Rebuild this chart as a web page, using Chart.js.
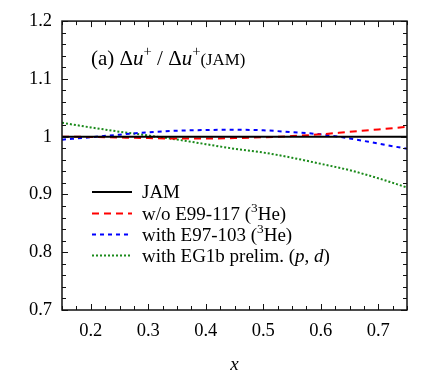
<!DOCTYPE html>
<html>
<head>
<meta charset="utf-8">
<script src="https://cdn.jsdelivr.net/npm/chart.js@4.4.1/dist/chart.umd.min.js"></script>
<style>
  html, body { margin: 0; padding: 0; background: #fff; }
  #wrap { width: 436px; height: 381px; }
</style>
</head>
<body>
<div id="wrap"><canvas id="graphic"></canvas></div>
<script>
// x grid of the curves
const xValues = [0.15, 0.2, 0.25, 0.3, 0.35, 0.4, 0.45, 0.5, 0.55, 0.6, 0.65, 0.7, 0.75]

// ratio to JAM
const jam      = [1, 1, 1, 1, 1, 1, 1, 1, 1, 1, 1, 1, 1]
const woE99    = [1.0, 0.9995, 0.9985, 0.9975, 0.9967, 0.9968, 0.9975, 0.999, 1.001, 1.004, 1.0083, 1.0125, 1.017]
const withE97  = [0.9948, 0.999, 1.0035, 1.0075, 1.0103, 1.0115, 1.012, 1.011, 1.0078, 1.004, 0.997, 0.988, 0.979]
const withEG1b = [1.024, 1.016, 1.0086, 1.002, 0.995, 0.987, 0.979, 0.9725, 0.9635, 0.953, 0.942, 0.928, 0.912]

const xTicks = [0.2, 0.3, 0.4, 0.5, 0.6, 0.7]
const xTickLabels = ['0.2', '0.3', '0.4', '0.5', '0.6', '0.7']
const yTicks = [0.7, 0.8, 0.9, 1.0, 1.1, 1.2]
const yTickLabels = ['0.7', '0.8', '0.9', '1', '1.1', '1.2']
const xMinorStep = 0.025
const yMinorStep = 0.02

const seriesNames = ['JAM', 'w/o E99-117', 'with E97-103', 'with EG1b prelim.']
// rich text pieces of the legend entries
const legendTexts = [
  [{t: 'JAM'}],
  [{t: 'w/o E99-117 ('}, {t: '3', sup: true}, {t: 'He)'}],
  [{t: 'with E97-103 ('}, {t: '3', sup: true}, {t: 'He)'}],
  [{t: 'with EG1b prelim. ('}, {t: 'p', it: true}, {t: ', '}, {t: 'd', it: true}, {t: ')'}]
]
const panelTitle = [
  {t: '(a) \u0394'}, {t: 'u', it: true}, {t: '+', sup: true}, {t: ' / \u0394'},
  {t: 'u', it: true}, {t: '+', sup: true}, {t: '(JAM)', small: true}
]

const FONT = '"Liberation Serif", "Times New Roman", serif'

const drawRich = (ctx, segs, x, y, size) => {
  segs.forEach(seg => {
    const s = seg.sup ? size * 0.7 : seg.small ? size * 0.8 : size
    ctx.font = `${seg.it ? 'italic ' : ''}${s}px ${FONT}`
    const dy = seg.sup ? -size * 0.42 : 0
    ctx.fillText(seg.t, x, y + dy)
    x += ctx.measureText(seg.t).width
  })
}

const stepTicks = (min, max, step) => {
  const out = []
  for (let v = min; v <= max + 1e-9; v += step) out.push(+v.toFixed(4))
  return out
}

const frameAndTicks = {
  id: 'frameAndTicks',
  afterDatasetsDraw(chart) {
    const {ctx, chartArea: a, scales: {x, y}} = chart
    ctx.save()
    ctx.strokeStyle = '#111'
    ctx.lineWidth = 1
    const isMajor = (v, list) => list.some(m => Math.abs(m - v) < 1e-6)
    stepTicks(0.15, 0.75, xMinorStep).forEach(v => {
      const px = Math.round(x.getPixelForValue(v)) + 0.5
      const len = isMajor(v, xTicks) ? 6 : 4
      ctx.beginPath()
      ctx.moveTo(px, a.bottom); ctx.lineTo(px, a.bottom - len)
      ctx.moveTo(px, a.top); ctx.lineTo(px, a.top + len)
      ctx.stroke()
    })
    stepTicks(0.7, 1.2, yMinorStep).forEach(v => {
      const py = Math.round(y.getPixelForValue(v)) + 0.5
      const len = isMajor(v, yTicks) ? 6 : 4
      ctx.beginPath()
      ctx.moveTo(a.left, py); ctx.lineTo(a.left + len, py)
      ctx.moveTo(a.right, py); ctx.lineTo(a.right - len, py)
      ctx.stroke()
    })
    ctx.lineWidth = 1.5
    ctx.strokeRect(a.left, a.top, a.right - a.left, a.bottom - a.top)
    ctx.restore()
  },
  afterDraw(chart) {
    const {ctx} = chart
    ctx.save()
    ctx.fillStyle = '#000'
    ctx.textBaseline = 'alphabetic'
    drawRich(ctx, panelTitle, 91, 65, 21)

    const baselines = [198, 219.5, 240.5, 261.5]
    chart.data.datasets.forEach((ds, i) => {
      const ly = baselines[i] - 6
      ctx.strokeStyle = ds.borderColor
      ctx.lineWidth = ds.borderWidth
      ctx.setLineDash(ds.borderDash || [])
      ctx.beginPath()
      ctx.moveTo(92, ly); ctx.lineTo(132, ly)
      ctx.stroke()
      ctx.setLineDash([])
      ctx.fillStyle = '#000'
      drawRich(ctx, legendTexts[i], 142, baselines[i], 19)
    })
    ctx.restore()
  }
}

const toPoints = (ys) => xValues.map((x, i) => ({x, y: ys[i]}))

new Chart(document.querySelector('#graphic'), {
  type: 'line',
  data: {
    datasets: [
      {label: seriesNames[0], data: toPoints(jam), borderColor: '#000000', borderWidth: 2},
      {label: seriesNames[1], data: toPoints(woE99), borderColor: '#ff0000', borderWidth: 2, borderDash: [7, 5]},
      {label: seriesNames[2], data: toPoints(withE97), borderColor: '#0000ff', borderWidth: 2, borderDash: [4, 4]},
      {label: seriesNames[3], data: toPoints(withEG1b), borderColor: '#1a8a1a', borderWidth: 2, borderDash: [2, 2]}
    ]
  },
  options: {
    responsive: true,
    maintainAspectRatio: false,
    animation: false,
    layout: {padding: {top: 20, right: 29, left: 0, bottom: 0}},
    elements: {point: {radius: 0}, line: {cubicInterpolationMode: 'monotone', fill: false}},
    plugins: {legend: {display: false}, tooltip: {enabled: false}},
    scales: {
      x: {
        type: 'linear', min: 0.15, max: 0.75,
        border: {display: false},
        grid: {display: false, drawTicks: false},
        afterBuildTicks: s => { s.ticks = xTicks.map(v => ({value: v})) },
        afterFit: s => { s.height = 71 },
        ticks: {
          font: {family: FONT, size: 18.5}, color: '#000', padding: 10, maxRotation: 0,
          callback: (v, i) => xTickLabels[i]
        },
        title: {
          display: true, text: 'x', color: '#000',
          font: {family: FONT, size: 19, style: 'italic'},
          padding: {top: 0, bottom: 5}
        }
      },
      y: {
        type: 'linear', min: 0.7, max: 1.2,
        border: {display: false},
        grid: {display: false, drawTicks: false},
        afterBuildTicks: s => { s.ticks = yTicks.map(v => ({value: v})) },
        afterFit: s => { s.width = 62 },
        ticks: {
          font: {family: FONT, size: 18.5}, color: '#000', padding: 10,
          callback: (v, i) => yTickLabels[i]
        }
      }
    }
  },
  plugins: [frameAndTicks]
})
</script>
</body>
</html>
